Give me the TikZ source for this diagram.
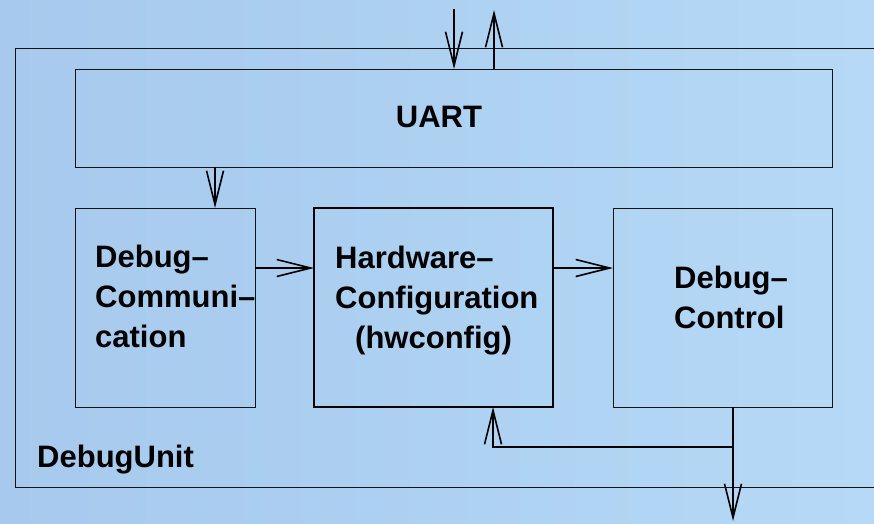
\documentclass[tikz,border=0pt]{standalone}
\usepackage{fontspec}
\setmainfont{Liberation Sans}
\usetikzlibrary{arrows.meta}
\definecolor{bgleft}{RGB}{166,201,237}
\definecolor{bgright}{RGB}{181,217,246}
\begin{document}
\begin{tikzpicture}[x=1pt,y=-1pt,
  block/.style={draw=black!92, line width=0.9pt, inner sep=0pt, outer sep=0pt},
  heavy/.style={block, draw=black, line width=2.2pt},
  lbl/.style={inner sep=0pt, font=\fontsize{31}{40}\selectfont\bfseries, align=left},
  arr/.style={line width=1.6pt, -{Straight Barb[length=34pt,width=17pt,line width=1.6pt]}}]

% canvas and background
\useasboundingbox (0,0) rectangle (874,523);
\shade[left color=bgleft, right color=bgright] (0,0) rectangle (874,523);
\clip (0,0) rectangle (874,523);

% blocks
\node[block, minimum width=890pt, minimum height=439pt] (unit) at (460,267.5) {};
\node[block, minimum width=757pt, minimum height=98pt] (uart) at (453.5,118) {};
\node[block, minimum width=180pt, minimum height=199pt] (dcomm) at (165,307.5) {};
\node[heavy, minimum width=239pt, minimum height=199pt] (hwconf) at (433.5,307.5) {};
\node[block, minimum width=219pt, minimum height=199pt] (dctrl) at (722.5,307.5) {};

% labels (base anchor sits on the last line)
\node[lbl, anchor=base] (uartlbl) at (439,127) {UART};
\node[lbl, anchor=base west] (unitlbl) at (37,467) {DebugUnit};
\node[lbl, anchor=base west] (dcommlbl) at (95,347) {Debug–\\Communi–\\cation};
\node[lbl, anchor=base west] (hwconflbl) at (335,348) {Hardware–\\Configuration\\\hspace*{20pt}(hwconfig)};
\node[lbl, anchor=base west] (dctrllbl) at (674,328) {Debug–\\Control};

% external connections of the UART
\coordinate (inTop) at (454,9);
\coordinate (outTop) at (494,10);
\draw[arr] (inTop) -- (inTop |- uart.north);
\draw[arr] (outTop |- uart.north) -- (outTop);

% internal data flow
\draw[arr] ([xshift=50pt]dcomm.north |- uart.south) -- ([xshift=50pt]dcomm.north);
\draw[arr] ([yshift=39.5pt]dcomm.east) -- ([yshift=39.5pt]hwconf.west);
\draw[arr] ([yshift=39.5pt]hwconf.east) -- ([yshift=39.5pt]dctrl.west);

% control output and feedback
\coordinate (out) at (733,521);
\coordinate (split) at (733,447);
\draw[arr] ([xshift=10.5pt]dctrl.south) -- (out);
\draw[arr] (split) -| ([xshift=59.5pt]hwconf.south);
\end{tikzpicture}
\end{document}
